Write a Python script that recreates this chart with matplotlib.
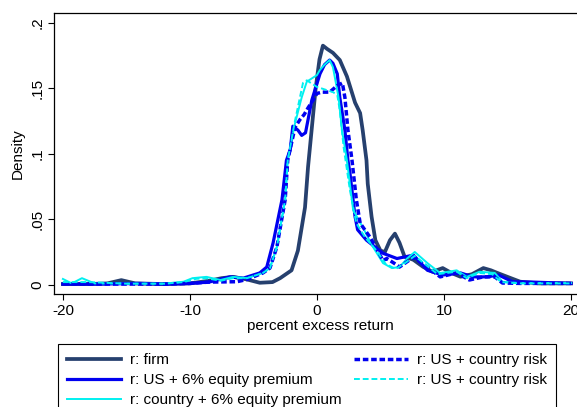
import numpy as np
import matplotlib
matplotlib.use("Agg")
import matplotlib.pyplot as plt

# kernel density curves
firm_x = [-20, -18, -16.5, -15.4, -14.3, -12, -10, -8.5, -7.5, -6.6, -5.5, -4.5, -3.5, -2.9,
          -2.0, -1.5, -0.94, -0.7, -0.4, -0.1, 0.2, 0.47, 0.8, 1.26, 1.8, 2.36, 3.0, 3.4, 3.6,
          3.9, 4.0, 4.3, 4.6, 5.0, 5.35, 5.75, 6.14, 6.5, 6.9, 7.6, 8.35, 9.1, 9.9, 10.6, 11.3,
          12.2, 13.1, 13.7, 14.2, 15.0, 16.0, 17.5, 20]
firm_y = [0.0005, 0.0005, 0.001, 0.0035, 0.001, 0.0005, 0.001, 0.003, 0.005, 0.006, 0.004,
          0.0015, 0.002, 0.005, 0.011, 0.026, 0.059, 0.09, 0.12, 0.15, 0.172, 0.1825, 0.18,
          0.177, 0.1715, 0.159, 0.139, 0.131, 0.118, 0.095, 0.077, 0.052, 0.034, 0.026, 0.025,
          0.034, 0.039, 0.032, 0.0214, 0.019, 0.0137, 0.0099, 0.0127, 0.0089, 0.0061, 0.008,
          0.0127, 0.011, 0.009, 0.006, 0.0023, 0.001, 0.001]

us6_x = [-20, -17, -14, -12, -10, -8.5, -6.85, -5.8, -4.5, -3.95, -3.45, -2.75, -2.4, -2.1,
         -1.9, -1.5, -1.2, -0.9, -0.7, -0.4, 0.24, 0.6, 1.0, 1.26, 1.6, 1.8, 2.2, 2.44, 2.6,
         3.0, 3.2, 3.9, 5.2, 6.3, 7.6, 8.7, 9.9, 11.3, 12.3, 13.4, 14.3, 15.4, 17, 20]
us6_y = [0.0005, 0.0005, 0.001, 0.0005, 0.001, 0.002, 0.006, 0.005, 0.009, 0.0135, 0.032,
         0.065, 0.095, 0.103, 0.121, 0.118, 0.114, 0.116, 0.126, 0.141, 0.161, 0.168, 0.1715,
         0.169, 0.161, 0.143, 0.118, 0.095, 0.085, 0.052, 0.042, 0.034, 0.024, 0.020, 0.0226,
         0.011, 0.0074, 0.009, 0.006, 0.006, 0.0074, 0.0023, 0.002, 0.001]

c6_x = [-20, -19.3, -18.5, -17.5, -15, -12, -10.5, -9.8, -8.7, -7.6, -6.6, -5.5, -4.25, -3.7,
        -3.15, -2.5, -2.3, -1.73, -1.2, -0.8, 0, 0.24, 0.6, 1.0, 1.26, 1.7, 1.97, 2.36, 2.85,
        3.6, 4.4, 5.2, 5.9, 6.5, 7.1, 7.7, 8.7, 9.7, 11.0, 11.8, 12.8, 14.0, 14.6, 16, 20]
c6_y = [0.0044, 0.001, 0.005, 0.001, 0.0008, 0.0008, 0.0023, 0.005, 0.006, 0.0036, 0.006,
        0.005, 0.009, 0.0127, 0.029, 0.065, 0.095, 0.123, 0.143, 0.155, 0.160, 0.164, 0.168,
        0.1715, 0.166, 0.143, 0.118, 0.095, 0.057, 0.044, 0.029, 0.0165, 0.0127, 0.0135,
        0.02, 0.025, 0.0165, 0.0089, 0.011, 0.006, 0.0099, 0.009, 0.0023, 0.0012, 0.0013]

uscr_x = [-20, -17, -14, -12, -10, -8.5, -6.3, -5.5, -4.25, -3.7, -3.15, -2.5, -2.3, -1.73,
          -1.34, -1.0, -0.7, -0.3, 0, 0.4, 1.0, 1.6, 2.0, 2.2, 2.44, 2.76, 3.1, 3.4, 4.2,
          5.2, 5.5, 6.3, 6.5, 7.6, 8.7, 9.7, 11.0, 12.0, 13.1, 14.0, 14.6, 16, 20]
uscr_y = [0.0008, 0.0005, 0.0005, 0.0005, 0.001, 0.002, 0.0023, 0.004, 0.009, 0.0127, 0.029,
          0.065, 0.095, 0.12, 0.126, 0.13, 0.135, 0.141, 0.146, 0.147, 0.147, 0.152, 0.154,
          0.143, 0.118, 0.095, 0.065, 0.047, 0.036, 0.0185, 0.020, 0.015, 0.0135, 0.021,
          0.0135, 0.006, 0.009, 0.0036, 0.006, 0.006, 0.0013, 0.001, 0.001]

cucr_x = [-20, -18, -15, -12, -10.5, -9.5, -8.7, -7.6, -6.6, -5.5, -4.25, -3.7, -3.15, -2.5,
          -2.3, -1.73, -1.1, -0.8, 0, 1.26, 1.6, 1.8, 2.1, 2.6, 3.1, 3.8, 4.7, 5.4, 6.2, 7.0,
          7.7, 8.6, 9.5, 11.0, 11.8, 12.8, 13.8, 14.5, 16, 20]
cucr_y = [0.002, 0.002, 0.0008, 0.0008, 0.002, 0.0045, 0.005, 0.003, 0.005, 0.005, 0.009,
          0.0127, 0.029, 0.065, 0.095, 0.125, 0.154, 0.156, 0.151, 0.147, 0.145, 0.133, 0.105,
          0.072, 0.047, 0.036, 0.026, 0.016, 0.012, 0.017, 0.022, 0.015, 0.008, 0.01, 0.005,
          0.009, 0.008, 0.002, 0.001, 0.001]

labels = ["r: firm", "r: US + 6% equity premium", "r: country + 6% equity premium",
          "r: US + country risk", "r: US + country risk"]

plt.rcParams['font.family'] = ['Liberation Sans', 'DejaVu Sans']
plt.rcParams['axes.unicode_minus'] = False

fig = plt.figure(figsize=(5.77, 4.07), dpi=100)
ax = fig.add_axes([0.0936, 0.2776, 0.9246, 0.6904])

navy = "#26406e"
blue = "#0000f0"
cyan = "#00f0f0"

ax.plot(firm_x, firm_y, color=navy, lw=2.7, label=labels[0], solid_joinstyle='round')
ax.plot(us6_x, us6_y, color=blue, lw=2.3, label=labels[1], solid_joinstyle='round')
ax.plot(c6_x, c6_y, color=cyan, lw=1.4, label=labels[2], solid_joinstyle='round')
ax.plot(uscr_x, uscr_y, color=blue, lw=2.5, ls=(0, (1.6, 0.8)), label=labels[3])
ax.plot(cucr_x, cucr_y, color=cyan, lw=1.4, ls=(0, (3, 1.5)), label=labels[4])

ax.set_xlim(-20.7, 21.3)
ax.set_ylim(-0.0071, 0.2074)
ax.set_xticks([-20, -10, 0, 10, 20])
ax.set_yticks([0, 0.05, 0.1, 0.15, 0.2])
ax.set_yticklabels(["0", ".05", ".1", ".15", ".2"], rotation=90, va='center')
ax.tick_params(direction='out', length=4, width=0.8, labelsize=11, pad=3)
ax.spines['right'].set_visible(False)
for s in ['left', 'bottom', 'top']:
    ax.spines[s].set_linewidth(0.9)
ax.set_xlabel("percent excess return", fontsize=11, labelpad=1)
ax.set_ylabel("Density", fontsize=11, labelpad=4)

fig.legend(loc='upper left', bbox_to_anchor=(58 / 577, 0, (556 - 58) / 577, 1 - 344 / 407),
           mode='expand', ncol=2, fontsize=11, frameon=True, fancybox=False,
           edgecolor='black', framealpha=1, handlelength=3.5, handletextpad=0.6,
           labelspacing=0.4, borderpad=0.6, borderaxespad=0)
fig.legends[0].get_frame().set_linewidth(0.8)

fig.savefig("out.png", dpi=100)
